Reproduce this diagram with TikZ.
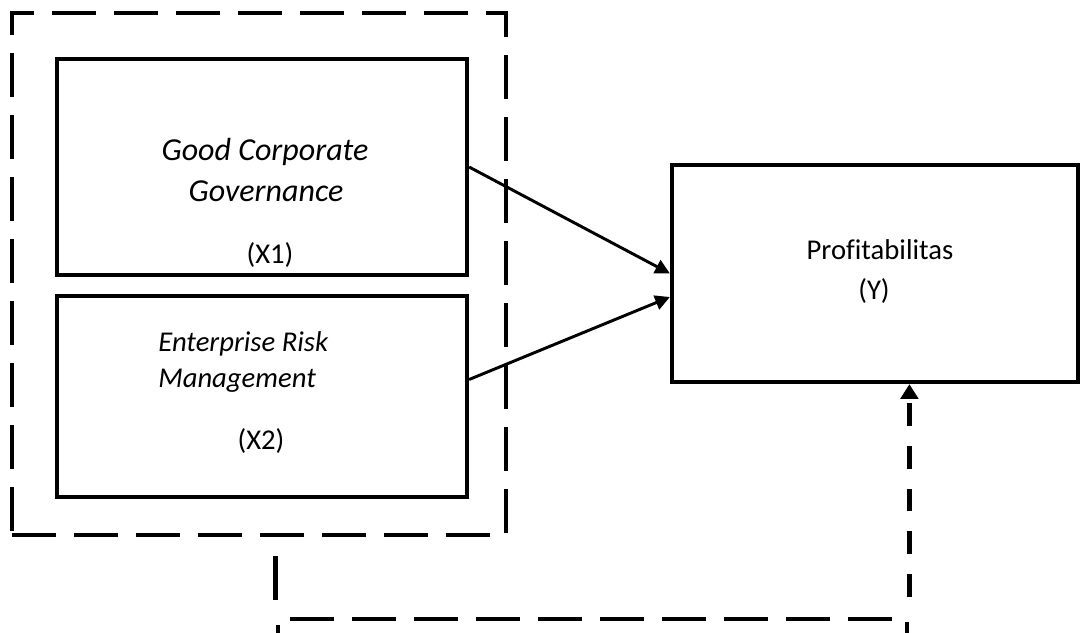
\documentclass[tikz,border=0pt]{standalone}
\usepackage{fontspec}
\setmainfont{Carlito}[Ligatures=NoCommon]
\usetikzlibrary{arrows.meta,calc}
\begin{document}
\begin{tikzpicture}[x=0.75pt,y=-0.75pt,
  box/.style={draw,line width=3.2pt,rectangle,inner sep=0pt},
  grpbox/.style={draw,line width=3.6pt,rectangle,inner sep=0pt,dash pattern=on 33pt off 13.5pt},
  lbl/.style={inner sep=0pt,font=\fontsize{21.5pt}{26pt}\selectfont},
  ilbl/.style={lbl,font=\fontsize{21.5pt}{26pt}\selectfont\itshape},
  bilbl/.style={lbl,font=\fontsize{24pt}{29pt}\selectfont\itshape},
  conn/.style={line width=2.2pt,-{Triangle[length=11pt,width=11pt]}},
  dconn/.style={line width=3.6pt,dash pattern=on 17pt off 15pt,dash phase=17pt,-{Triangle[length=11pt,width=13pt]}}]
\useasboundingbox (0,0) rectangle (1080,632);
\clip (0,0) rectangle (1080,632);
% group box
\node[grpbox,minimum width=370.5pt,minimum height=391.5pt] (grp) at (259,274) {};
% variable boxes
\node[box,minimum width=307.5pt,minimum height=162pt] (x1) at (262,167) {};
\node[box,minimum width=307.5pt,minimum height=150.75pt] (x2) at (262,396.5) {};
\node[box,minimum width=304.5pt,minimum height=162.75pt] (yb) at (875,273.5) {};
% lower (cut-off) box
\node[grpbox,minimum width=471.75pt,minimum height=75pt] (ctrl) at (592.5,669) {};
% texts
\node[bilbl,anchor=base] (t1a) at (265,160) {Good Corporate};
\node[bilbl,anchor=base] (t1b) at (266,201) {Governance};
\node[lbl,anchor=base] (t1c) at (270,263) {(X1)};
\node[ilbl,anchor=base west] (t2a) at (158,351) {Enterprise Risk};
\node[ilbl,anchor=base west] (t2b) at (158,387) {Management};
\node[lbl,anchor=base] (t2c) at (261,449) {(X2)};
\node[lbl,anchor=base] (ty1) at (880,259) {Profitabilitas};
\node[lbl,anchor=base] (ty2) at (874,299) {(Y)};
% connectors
\draw[conn] (x1.east) -- (yb.west);
\draw[conn] ($(x2.east)+(0,-17)$) -- ($(yb.west)+(0,23.5)$);
\draw[line width=3.6pt,dash pattern=on 33pt off 14pt,dash phase=33pt] (ctrl.north west |- grp.south) -- (ctrl.north west);
\draw[dconn] (ctrl.north east) -- (ctrl.north east |- yb.south);
\end{tikzpicture}
\end{document}
